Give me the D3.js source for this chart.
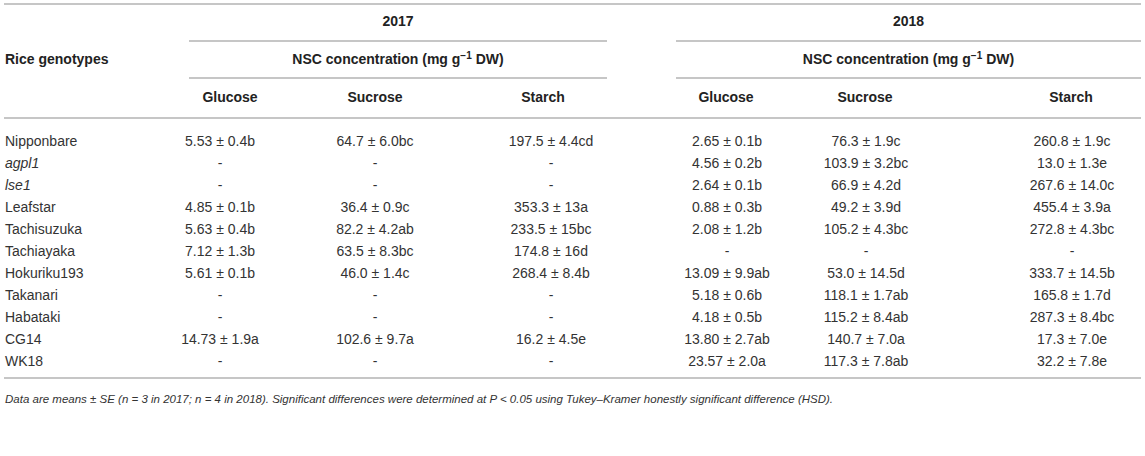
<!DOCTYPE html>
<html>
<head>
<meta charset="utf-8">
<script src="https://cdn.jsdelivr.net/npm/d3@7"></script>
<style>
  body { margin: 0; background: #fff; }
  svg { font-family: "Liberation Sans", Arial, Helvetica, sans-serif; }
</style>
</head>
<body>
<svg width="1145" height="456"></svg>
<script>
// table content
var genotypes = ["Nipponbare", "agpl1", "lse1", "Leafstar", "Tachisuzuka", "Tachiayaka",
                 "Hokuriku193", "Takanari", "Habataki", "CG14", "WK18"];
var italicNames = ["agpl1", "lse1"];
var years = ["2017", "2018"];
var sugars = ["Glucose", "Sucrose", "Starch"];

var glucose2017 = ["5.53 ± 0.4b", "-", "-", "4.85 ± 0.1b", "5.63 ± 0.4b", "7.12 ± 1.3b",
                   "5.61 ± 0.1b", "-", "-", "14.73 ± 1.9a", "-"];
var sucrose2017 = ["64.7 ± 6.0bc", "-", "-", "36.4 ± 0.9c", "82.2 ± 4.2ab", "63.5 ± 8.3bc",
                   "46.0 ± 1.4c", "-", "-", "102.6 ± 9.7a", "-"];
var starch2017 = ["197.5 ± 4.4cd", "-", "-", "353.3 ± 13a", "233.5 ± 15bc", "174.8 ± 16d",
                  "268.4 ± 8.4b", "-", "-", "16.2 ± 4.5e", "-"];
var glucose2018 = ["2.65 ± 0.1b", "4.56 ± 0.2b", "2.64 ± 0.1b", "0.88 ± 0.3b", "2.08 ± 1.2b", "-",
                   "13.09 ± 9.9ab", "5.18 ± 0.6b", "4.18 ± 0.5b", "13.80 ± 2.7ab", "23.57 ± 2.0a"];
var sucrose2018 = ["76.3 ± 1.9c", "103.9 ± 3.2bc", "66.9 ± 4.2d", "49.2 ± 3.9d", "105.2 ± 4.3bc", "-",
                   "53.0 ± 14.5d", "118.1 ± 1.7ab", "115.2 ± 8.4ab", "140.7 ± 7.0a", "117.3 ± 7.8ab"];
var starch2018 = ["260.8 ± 1.9c", "13.0 ± 1.3e", "267.6 ± 14.0c", "455.4 ± 3.9a", "272.8 ± 4.3bc", "-",
                  "333.7 ± 14.5b", "165.8 ± 1.7d", "287.3 ± 8.4bc", "17.3 ± 7.0e", "32.2 ± 7.8e"];

var footnote = "Data are means ± SE (n = 3 in 2017; n = 4 in 2018). Significant differences were determined at P < 0.05 using Tukey–Kramer honestly significant difference (HSD).";

var columns = [glucose2017, sucrose2017, starch2017, glucose2018, sucrose2018, starch2018];
var colKeys = ["g17", "s17", "st17", "g18", "s18", "st18"];

var svg = d3.select("svg");
var lineColor = "#b3b3b3";
var textColor = "#333";

// column centres
var xData = d3.scaleOrdinal().domain(colKeys).range([220, 375, 551, 727, 866, 1072]);
var xHead = d3.scaleOrdinal().domain(colKeys).range([230, 375, 543, 726, 865, 1071]);
var yearSpan = d3.scaleOrdinal().domain(years).range([[189, 607], [676, 1141]]);

var yRow = d3.scaleBand().domain(genotypes).range([130, 372]);

function hline(x1, x2, y) {
  svg.append("line")
    .attr("x1", x1).attr("x2", x2).attr("y1", y).attr("y2", y)
    .attr("stroke", lineColor).attr("stroke-width", 1.5);
}

// horizontal rules
hline(4, 1141, 4);
hline(4, 1141, 118);
hline(4, 1141, 378);
years.forEach(function(yr) {
  var s = yearSpan(yr);
  hline(s[0], s[1], 41);
  hline(s[0], s[1], 78);
});

// header text
svg.append("text").attr("x", 5).attr("y", 64)
  .attr("font-size", 14).attr("font-weight", "bold").attr("fill", "#222")
  .text("Rice genotypes");

years.forEach(function(yr) {
  var s = yearSpan(yr), cx = (s[0] + s[1]) / 2;
  svg.append("text").attr("x", cx).attr("y", 26)
    .attr("text-anchor", "middle").attr("font-size", 14).attr("font-weight", "bold").attr("fill", "#222")
    .text(yr);
  var t = svg.append("text").attr("x", cx).attr("y", 64)
    .attr("text-anchor", "middle").attr("font-size", 14).attr("font-weight", "bold").attr("fill", "#222");
  t.append("tspan").text("NSC concentration (mg g");
  t.append("tspan").attr("font-size", 10).attr("dy", -5).text("−1");
  t.append("tspan").attr("dy", 5).text(" DW)");
});

colKeys.forEach(function(k, i) {
  svg.append("text").attr("x", xHead(k)).attr("y", 102)
    .attr("text-anchor", "middle").attr("font-size", 14).attr("font-weight", "bold").attr("fill", "#222")
    .text(sugars[i % 3]);
});

// genotype names
svg.selectAll(".name")
  .data(genotypes)
  .enter().append("text")
  .attr("class", "name")
  .attr("x", 5)
  .attr("y", function(d) { return yRow(d) + yRow.bandwidth() / 2 + 5; })
  .attr("font-size", 14)
  .attr("font-style", function(d) { return italicNames.indexOf(d) >= 0 ? "italic" : "normal"; })
  .attr("fill", textColor)
  .text(function(d) { return d; });

// value cells
columns.forEach(function(col, ci) {
  svg.selectAll(".c" + ci)
    .data(col)
    .enter().append("text")
    .attr("class", "c" + ci)
    .attr("x", xData(colKeys[ci]))
    .attr("y", function(d, i) { return yRow(genotypes[i]) + yRow.bandwidth() / 2 + 5; })
    .attr("text-anchor", "middle")
    .attr("font-size", 14)
    .attr("fill", textColor)
    .text(function(d) { return d; });
});

// footnote
svg.append("text").attr("x", 5).attr("y", 403)
  .attr("font-size", 11.5).attr("font-style", "italic").attr("fill", textColor)
  .text(footnote);
</script>
</body>
</html>
